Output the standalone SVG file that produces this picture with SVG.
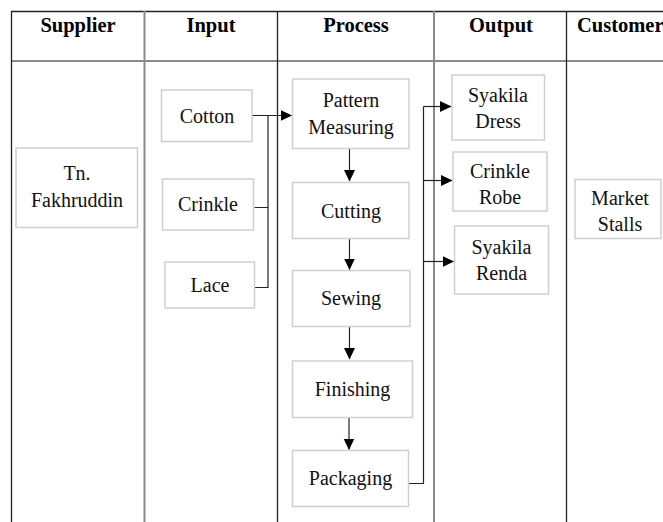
<svg xmlns="http://www.w3.org/2000/svg" width="663" height="522" viewBox="0 0 663 522">
<defs>
<marker id="ah" markerWidth="12" markerHeight="12" refX="11" refY="6" orient="auto" markerUnits="userSpaceOnUse">
<path d="M0,0.5 L11.5,6 L0,11.5 Z" fill="#000"/>
</marker>
</defs>
<style>
.tl{stroke:#222;stroke-width:1.3;fill:none}
.tg{stroke:#8a8a8a;stroke-width:2;fill:none}
.box{fill:#fff;stroke:#cfcfcf;stroke-width:1.5}
.hd{font-family:'Liberation Serif','Times New Roman','DejaVu Serif',serif;font-weight:bold;font-size:20.5px;fill:#000;text-anchor:middle}
.t{font-family:'Liberation Serif','Times New Roman','DejaVu Serif',serif;font-size:20px;fill:#111;text-anchor:middle}
.c{stroke:#222;stroke-width:1.2;fill:none}
.ca{stroke:#222;stroke-width:1.2;fill:none;marker-end:url(#ah)}
</style>
<rect width="663" height="522" fill="#fff"/>
<g id="table">
<line class="tl" x1="11" y1="11.5" x2="663" y2="11.5"/>
<line class="tg" x1="11" y1="61" x2="663" y2="61"/>
<line class="tl" x1="11.5" y1="11" x2="11.5" y2="522"/>
<line class="tg" x1="144.5" y1="11" x2="144.5" y2="522"/>
<line class="tl" x1="277.5" y1="11" x2="277.5" y2="522"/>
<line class="tg" x1="434" y1="11" x2="434" y2="522"/>
<line class="tl" x1="566.5" y1="11" x2="566.5" y2="522"/>
<text class="hd" x="78" y="32" font-family="Liberation Serif">Supplier</text>
<text class="hd" x="211" y="32" font-family="Liberation Serif">Input</text>
<text class="hd" x="356" y="32" font-family="Liberation Serif">Process</text>
<text class="hd" x="501" y="32" font-family="Liberation Serif">Output</text>
<text class="hd" x="577" y="32" style="text-anchor:start" font-family="Liberation Serif">Customer</text>
</g>
<g id="connectors">
<line class="ca" x1="252" y1="115.5" x2="291.5" y2="115.5"/>
<polyline class="c" points="254.5,207.5 268,207.5 268,115.5"/>
<polyline class="c" points="254.5,287.5 268,287.5 268,207.5"/>
<line class="ca" x1="349.5" y1="148.5" x2="349.5" y2="181"/>
<line class="ca" x1="349.5" y1="238.5" x2="349.5" y2="269.5"/>
<line class="ca" x1="349.5" y1="327" x2="349.5" y2="359"/>
<line class="ca" x1="349" y1="417.5" x2="349" y2="449.5"/>
<polyline class="c" points="409,483.5 423.5,483.5 423.5,106.5"/>
<line class="ca" x1="423.5" y1="106.5" x2="451" y2="106.5"/>
<line class="ca" x1="423.5" y1="180.5" x2="452" y2="180.5"/>
<line class="ca" x1="423.5" y1="261.5" x2="453.5" y2="261.5"/>
</g>
<g id="supplier"><rect class="box" x="16" y="148" width="121.5" height="79.5"/><text class="t" x="77" y="180">Tn.</text><text class="t" x="77" y="207">Fakhruddin</text></g>
<g id="cotton"><rect class="box" x="161.5" y="90" width="90.5" height="51.5"/><text class="t" x="207" y="122.5">Cotton</text></g>
<g id="crinkle"><rect class="box" x="162.5" y="179" width="91" height="51"/><text class="t" x="208" y="211">Crinkle</text></g>
<g id="lace"><rect class="box" x="165" y="262" width="89.5" height="46"/><text class="t" x="210" y="292">Lace</text></g>
<g id="pattern"><rect class="box" x="292.5" y="79" width="116.5" height="69.5"/><text class="t" x="351" y="106.5">Pattern</text><text class="t" x="351" y="134">Measuring</text></g>
<g id="cutting"><rect class="box" x="292.5" y="182.5" width="116.5" height="56"/><text class="t" x="351" y="217.5">Cutting</text></g>
<g id="sewing"><rect class="box" x="292.5" y="270.5" width="117.5" height="56"/><text class="t" x="351" y="304.5">Sewing</text></g>
<g id="finishing"><rect class="box" x="292.5" y="361" width="120" height="56.5"/><text class="t" x="352.5" y="395.5">Finishing</text></g>
<g id="packaging"><rect class="box" x="292.5" y="450.5" width="116" height="56"/><text class="t" x="350.5" y="484.5">Packaging</text></g>
<g id="syakila-dress"><rect class="box" x="452" y="75" width="92.5" height="65"/><text class="t" x="498" y="101.5">Syakila</text><text class="t" x="498" y="127.5">Dress</text></g>
<g id="crinkle-robe"><rect class="box" x="453" y="152" width="94" height="59"/><text class="t" x="500" y="177.5">Crinkle</text><text class="t" x="500" y="203.5">Robe</text></g>
<g id="syakila-renda"><rect class="box" x="454.5" y="226" width="94" height="68"/><text class="t" x="501.5" y="253.5">Syakila</text><text class="t" x="501.5" y="279.5">Renda</text></g>
<g id="market-stalls"><rect class="box" x="575" y="179.5" width="86" height="59"/><text class="t" x="620" y="204.5">Market</text><text class="t" x="620" y="230.5">Stalls</text></g>
</svg>
